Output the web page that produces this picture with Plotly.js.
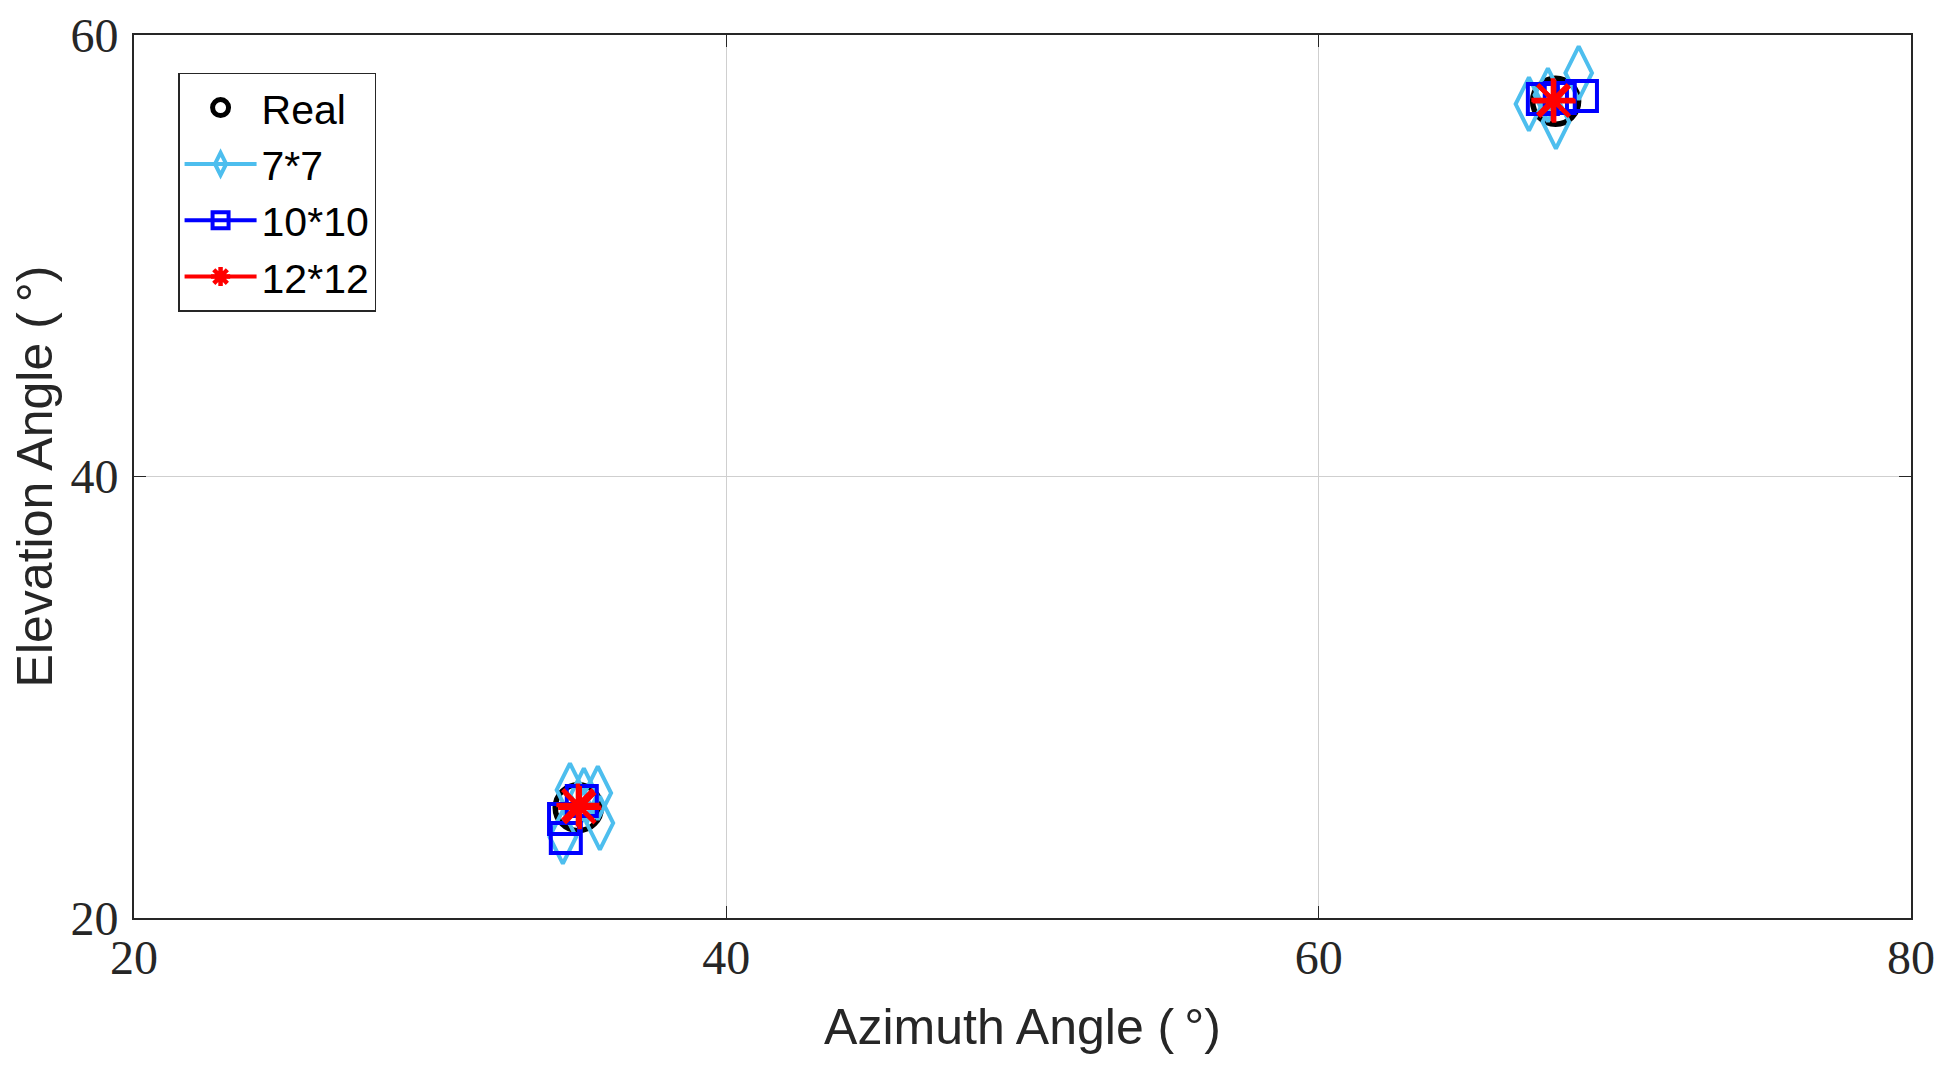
<!DOCTYPE html>
<html>
<head>
<meta charset="utf-8">
<script src="https://cdn.plot.ly/plotly-3.0.1.min.js"></script>
<style>
  html, body { margin: 0; padding: 0; background: #fff; }
  #chart { width: 1950px; height: 1066px; }
</style>
</head>
<body>
<div id="chart"></div>
<script>
// DOA estimates vs true source positions for three array sizes
const realAz = [35, 68];
const realEl = [25, 57];

const az7 = [34.72, 35.19, 35.66, 35.73, 34.48, 68.78, 67.10, 68.01, 67.74];
const el7 = [25.80, 25.57, 25.66, 24.30, 23.67, 58.28, 56.87, 56.06, 57.28];

const az10 = [35.12, 34.52, 34.58, 67.57, 68.14, 68.89];
const el10 = [25.30, 24.48, 23.62, 57.10, 57.15, 57.24];

const az12 = [34.99, 35.05, 67.91, 67.95];
const el12 = [25.12, 25.00, 57.06, 57.00];

const azTicks = [20, 40, 60, 80];
const elTicks = [20, 40, 60];

const INK = '#262626';
const SANS = 'Liberation Sans, Arial, sans-serif';
// null between points: legend keeps the line sample, plot shows markers only
const gap = arr => arr.flatMap(v => [v, null]);

const traces = [
  {
    x: realAz, y: realEl, type: 'scatter', mode: 'markers', name: 'Real',
    marker: { symbol: 'circle-open', size: 46, color: '#000', line: { width: 5.5, color: '#000' } },
  },
  {
    x: gap(az7), y: gap(el7), type: 'scatter', mode: 'lines+markers', name: '7*7',
    connectgaps: false, line: { color: '#4DBEEE', width: 4 },
    marker: { symbol: 'diamond-tall-open', size: 38, color: '#4DBEEE', line: { width: 4, color: '#4DBEEE' } },
  },
  {
    x: gap(az10), y: gap(el10), type: 'scatter', mode: 'lines+markers', name: '10*10',
    connectgaps: false, line: { color: '#0000FF', width: 4 },
    marker: { symbol: 'square-open', size: 30, color: '#0000FF', line: { width: 4, color: '#0000FF' } },
  },
  {
    x: gap(az12), y: gap(el12), type: 'scatter', mode: 'lines+markers', name: '12*12',
    connectgaps: false, line: { color: '#FF0000', width: 4 },
    marker: { symbol: 'asterisk-open', size: 36, color: '#FF0000', line: { width: 4.5, color: '#FF0000' } },
  },
];

const axisBase = {
  showline: true, linecolor: INK, linewidth: 2, mirror: 'ticks',
  ticks: 'inside', ticklen: 12, tickwidth: 1.5, tickcolor: INK,
  showgrid: true, gridcolor: '#cfcfcf', gridwidth: 1.5,
  zeroline: false,
  tickfont: { family: 'Liberation Serif, DejaVu Serif, serif', size: 48, color: INK },
};

const layout = {
  width: 1950, height: 1066,
  paper_bgcolor: '#fff', plot_bgcolor: '#fff',
  margin: { l: 134, r: 39, t: 35, b: 148 },
  showlegend: true,
  legend: {
    x: 0.0248, y: 0.957, xanchor: 'left', yanchor: 'top',
    bgcolor: '#fff', bordercolor: INK, borderwidth: 1.5,
    font: { family: SANS, size: 41, color: '#000' },
    tracegroupgap: 0, itemwidth: 72,
  },
  xaxis: Object.assign({}, axisBase, {
    range: [20, 80], tickvals: azTicks, ticktext: azTicks.map(String),
    ticklabelstandoff: -4,
    title: { text: 'Azimuth Angle (\u2009°)', standoff: 26,
      font: { family: SANS, size: 50, color: INK } },
  }),
  yaxis: Object.assign({}, axisBase, {
    range: [20, 60], tickvals: elTicks, ticktext: elTicks.map(String),
    ticklabelstandoff: 4,
    title: { text: 'Elevation Angle (\u2009°)', standoff: 2,
      font: { family: SANS, size: 50, color: INK } },
  }),
};

Plotly.newPlot('chart', traces, layout, { staticPlot: true, displayModeBar: false });
</script>
</body>
</html>
